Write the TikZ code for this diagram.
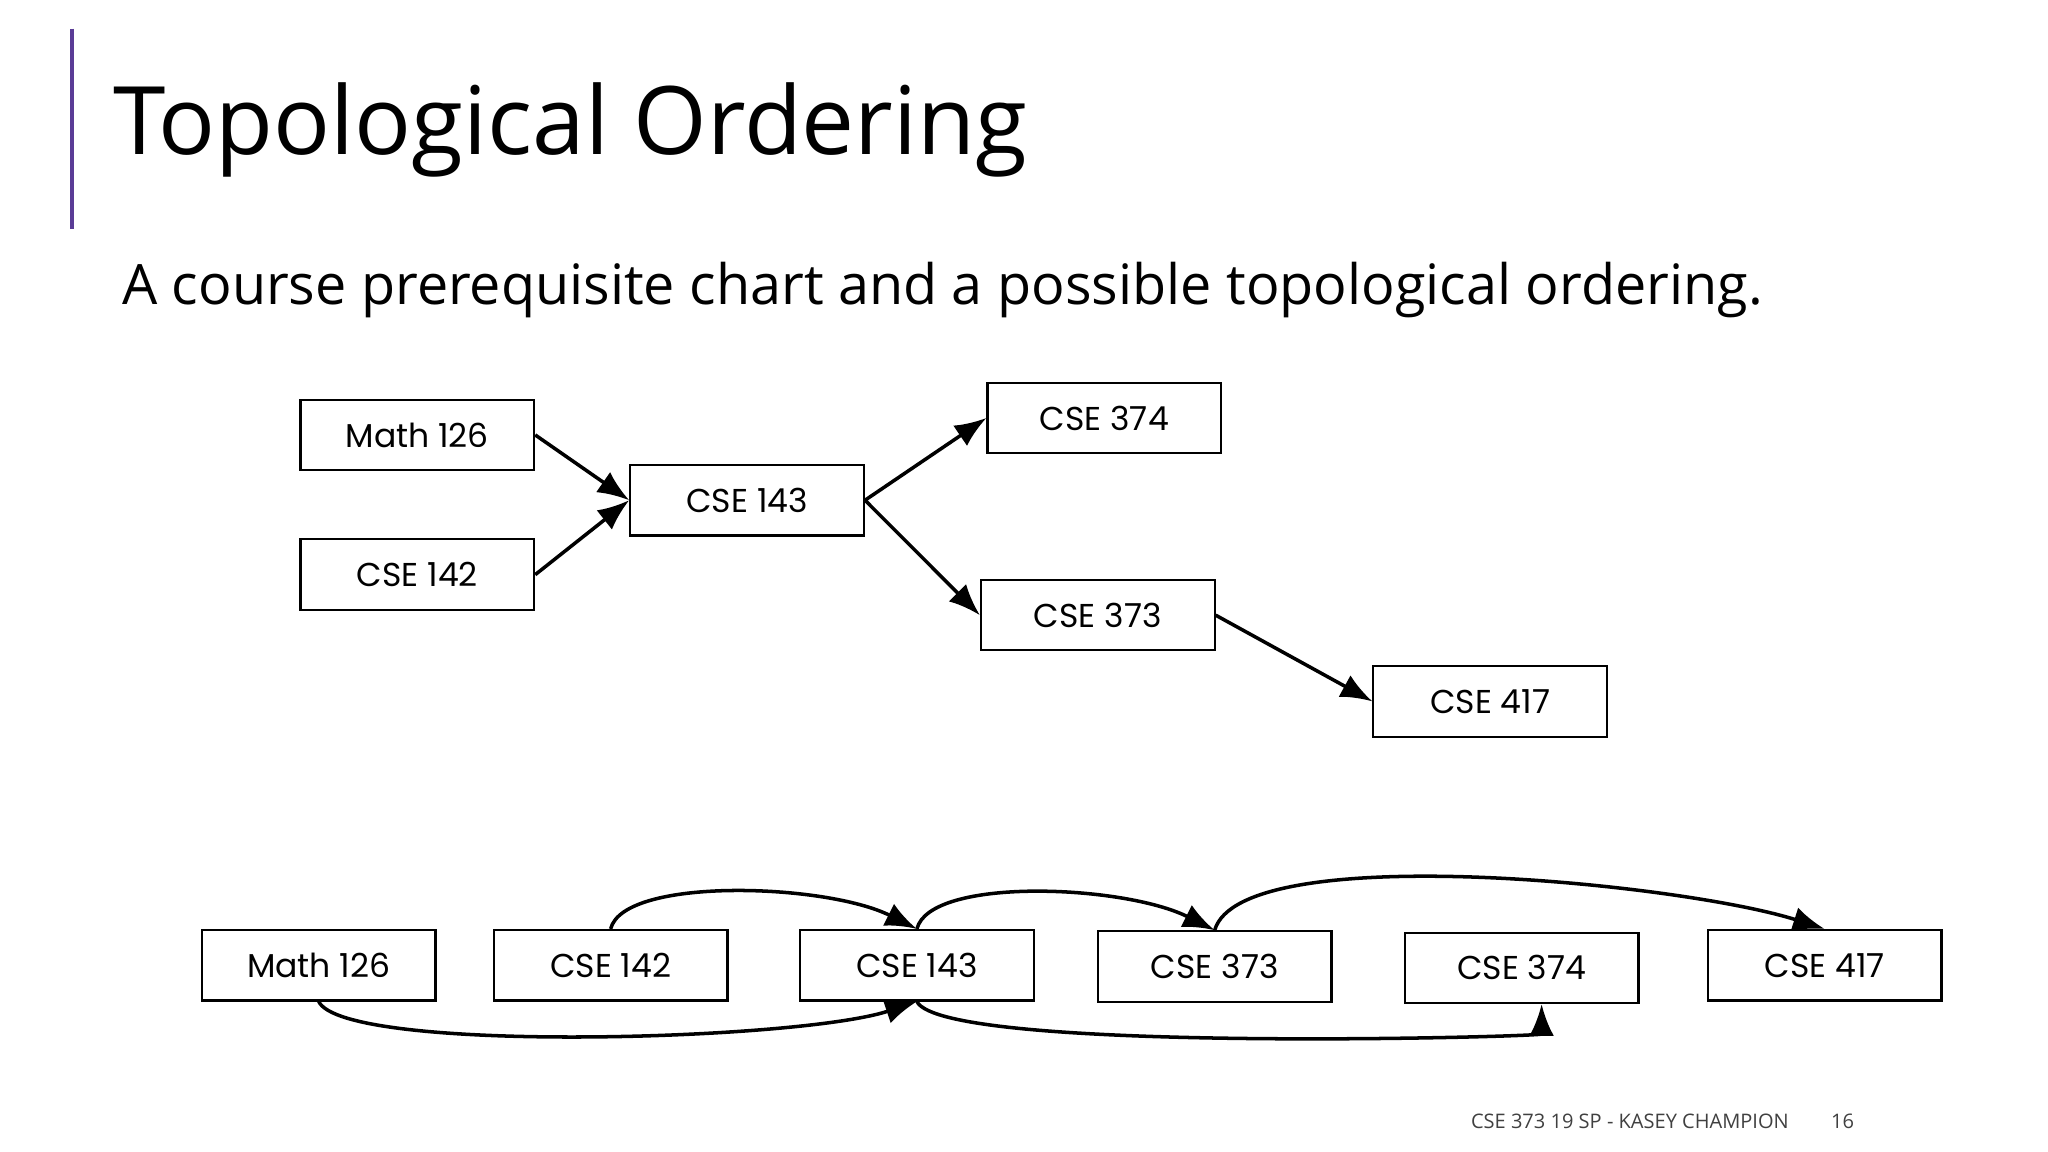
\documentclass[tikz,border=0pt]{standalone}
\usepackage{fontspec}
\setmainfont{Open Sans}
\newfontfamily\boxfont{Poppins}
\usetikzlibrary{arrows.meta}
\begin{document}
\begin{tikzpicture}[x=0.013055cm,y=-0.013055cm,
  box/.style={draw,line width=0.6pt,minimum width=2.337cm,minimum height=0.705cm,inner sep=0pt,font=\boxfont\fontsize{9.4}{11}\selectfont},
  arr/.style={line width=1pt,-{Latex[length=9pt,width=7pt]}}]
\useasboundingbox (0,0) rectangle ++(20.48cm,-11.52cm);
\draw[color={rgb,255:red,90;green,60;blue,150},line width=1pt] (55,22) -- (55,175);
\node[anchor=base west,inner sep=0pt,font=\fontsize{26.9}{30}\selectfont] (title) at (86,118) {Topological Ordering};
\node[anchor=base west,inner sep=0pt,font=\fontsize{15.85}{18}\selectfont] (sub) at (93,233) {A course prerequisite chart and a possible topological ordering.};
% top chart
\node[box] (m) at (319.5,333) {Math 126};
\node[box] (a142) at (319.5,440) {CSE 142};
\node[box] (a143) at (572,383) {CSE 143};
\node[box] (a374) at (845.5,320) {CSE 374};
\node[box] (a373) at (840.5,471) {CSE 373};
\node[box] (a417) at (1141,537) {CSE 417};
\draw[arr] (m.east) -- (a143.west);
\draw[arr] (a142.east) -- (a143.west);
\draw[arr] (a143.east) -- (a374.west);
\draw[arr] (a143.east) -- (a373.west);
\draw[arr] (a373.east) -- (a417.west);
% bottom row
\node[box] (bm) at (244,739) {Math 126};
\node[box] (b142) at (467.5,739) {CSE 142};
\node[box] (b143) at (702,739) {CSE 143};
\node[box] (b373) at (930,740) {CSE 373};
\node[box] (b374) at (1165,741) {CSE 374};
\node[box] (b417) at (1397,739) {CSE 417};
\draw[arr] (b142.north) .. controls +(10,-40) and +(-70,-35) .. (b143.north);
\draw[arr] (b143.north) .. controls +(10,-40) and +(-70,-35) .. (b373.north);
\draw[arr] (b373.north) .. controls +(20,-70) and +(-110,-35) .. (b417.north);
\draw[arr] (bm.south) .. controls +(20,40) and +(-90,30) .. (b143.south);
\draw[arr] (b143.south) .. controls +(20,40) and +(0,25) .. ([xshift=0.2cm]b374.south);
\node[anchor=base east,inner sep=0pt,font=\fontsize{5.7}{6.5}\selectfont,color=black!75] (foot) at (1370,864) {CSE 373 19 SP - KASEY CHAMPION};
\node[anchor=base east,inner sep=0pt,font=\fontsize{5.7}{6.5}\selectfont,color=black!75] (pg) at (1420,864) {16};
\end{tikzpicture}
\end{document}
